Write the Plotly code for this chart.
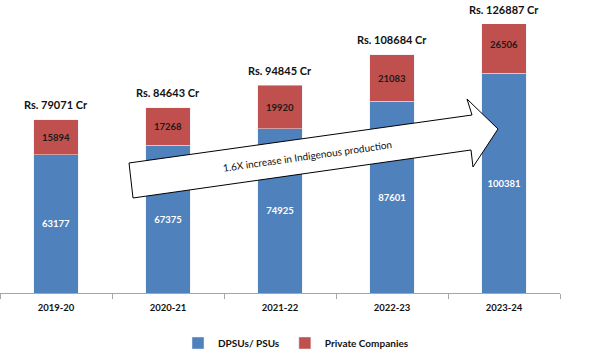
import plotly.graph_objects as go

years = ["2019-20", "2020-21", "2021-22", "2022-23", "2023-24"]
dpsu = [63177, 67375, 74925, 87601, 100381]
private = [15894, 17268, 19920, 21083, 26506]
totals = [79071, 84643, 94845, 108684, 126887]
total_labels = ["Rs. 79071 Cr", "Rs. 84643 Cr", "Rs. 94845 Cr", "Rs. 108684 Cr", "Rs. 126887 Cr"]
arrow_text = "1.6X increase in Indigenous production"

YMAX = 122800
FONT = "Lato"
W, H = 606, 360
ML, MR, MT, MB = 0, 46, 24, 67
PW = W - ML - MR
PH = H - MT - MB

fig = go.Figure()
fig.add_trace(go.Bar(
    x=years, y=dpsu, name="DPSUs/ PSUs", marker_color="#4F81BD",
    text=[str(v) for v in dpsu], textposition="inside", insidetextanchor="middle",
    textfont=dict(family=FONT, size=9.5, color="white", weight="bold"), width=0.4,
))
fig.add_trace(go.Bar(
    x=years, y=private, name="Private Companies", marker_color="#C0504D",
    text=[str(v) for v in private], textposition="inside", insidetextanchor="middle",
    textfont=dict(family=FONT, size=9.5, color="#1a1a1a", weight="bold"), width=0.4,
))

for yr, tot, lab in zip(years, totals, total_labels):
    fig.add_annotation(x=yr, y=min(tot, YMAX), text=lab, showarrow=False,
                       yshift=15, font=dict(family=FONT, size=11, color="#111", weight="bold"))

# block arrow geometry (pixel coordinates in figure), converted to paper coords
arrow_px = [(129, 163), (472, 115), (467, 99), (498, 129), (473, 167), (471, 150), (133, 198)]

def to_paper(px, py):
    return (px - ML) / PW, (H - MB - py) / PH

pts = [to_paper(x, y) for x, y in arrow_px]
path = "M " + " L ".join(f"{x:.4f},{y:.4f}" for x, y in pts) + " Z"
fig.add_shape(type="path", path=path, xref="paper", yref="paper",
              fillcolor="white", line=dict(color="black", width=1), layer="above")
tx, ty = to_paper(307, 156)
fig.add_annotation(x=tx, y=ty, xref="paper", yref="paper", text=arrow_text,
                   showarrow=False, textangle=-8,
                   font=dict(family=FONT, size=10, color="#111"))

fig.update_layout(
    barmode="stack", width=W, height=H,
    margin=dict(l=ML, r=MR, t=MT, b=MB),
    plot_bgcolor="white", paper_bgcolor="white",
    showlegend=True,
    legend=dict(orientation="h", xanchor="center", yanchor="middle", traceorder="normal",
                x=296 / PW, y=(H - MB - 343) / PH, itemwidth=30,
                font=dict(family=FONT, size=10, color="#111", weight="bold")),
    font=dict(family=FONT),
)
fig.update_xaxes(showline=True, linecolor="#a6a6a6", linewidth=1,
                 ticks="outside", tickson="boundaries", ticklen=5, tickcolor="#a6a6a6",
                 tickfont=dict(family=FONT, size=9.5, color="#111", weight="bold"),
                 ticklabelstandoff=6, showgrid=False)
fig.update_yaxes(range=[0, YMAX], visible=False, showgrid=False)

fig.write_html("out.html", config={"displayModeBar": False},
               post_script="document.body.style.margin='0px';")
